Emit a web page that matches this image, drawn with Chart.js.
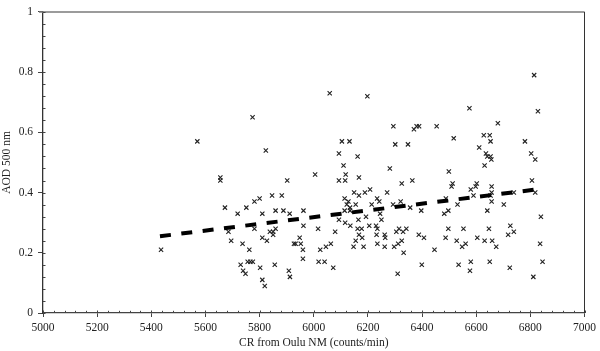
<!DOCTYPE html>
<html>
<head>
<meta charset="utf-8">
<script src="https://cdn.jsdelivr.net/npm/chart.js@4/dist/chart.umd.min.js"></script>
<style>
html,body{margin:0;padding:0;background:#fff;}
#wrap{width:600px;height:351px;position:relative;}
</style>
</head>
<body>
<div id="wrap"><canvas id="c" width="600" height="351"></canvas></div>
<script>
// CR from Oulu NM (counts/min)
const crValues = [
5774,5570,5823,5655,5655,5902,
5436,5672,5719,5751,5781,5800,5846,5882,5810,5859,5888,5911,5685,5695,5781,5737,5762,5810,5827,5838,5850,5850,5859,5927,5933,5730,5756,5766,5775,5802,5856,5739,5748,5810,5819,5908,5912,
6059,6198,6294,6370,6380,6389,6454,6104,6132,6301,6348,6093,6162,6110,6281,6118,6005,6093,6116,6167,6325,6364,
5962,6149,6167,6189,6208,6271,6114,6128,6122,6134,6155,6214,6234,6242,6293,6321,6356,6397,5948,5952,5960,5960,5962,6016,6079,6093,6116,6135,6114,6134,6165,6193,6245,6250,6205,6230,6235,6162,6177,6167,6179,6155,6147,6184,6232,6235,6262,6264,6262,6305,6315,6330,6342,6325,6312,6297,6332,6388,6407,6446,6024,6045,6063,6072,6018,6040,6399,6310,
6814,6575,6828,6680,6517,6628,6650,6653,6780,6611,6803,6818,6636,6641,6653,6656,6631,6499,6806,6513,6509,6602,6598,6580,6657,6657,
6590,6653,6657,6488,6739,6818,6531,6702,6641,6482,6497,6839,6497,6553,6647,6726,6718,6739,6487,6528,6548,6561,6604,6631,6659,6674,6836,6535,6580,6577,6650,6724,6845,6811
];
// AOD 500 nm
const aodValues = [
0.65,0.57,0.54,0.45,0.44,0.44,
0.21,0.35,0.33,0.35,0.37,0.38,0.39,0.39,0.33,0.34,0.34,0.33,0.27,0.24,0.28,0.23,0.21,0.25,0.24,0.27,0.27,0.26,0.28,0.23,0.23,0.16,0.17,0.17,0.17,0.15,0.16,0.14,0.13,0.11,0.09,0.14,0.12,
0.73,0.72,0.62,0.61,0.62,0.62,0.62,0.57,0.57,0.56,0.56,0.53,0.52,0.49,0.48,0.46,0.46,0.44,0.44,0.45,0.43,0.44,
0.34,0.40,0.39,0.40,0.41,0.40,0.38,0.37,0.36,0.35,0.36,0.36,0.38,0.37,0.36,0.37,0.35,0.34,0.25,0.23,0.21,0.18,0.29,0.28,0.27,0.31,0.30,0.29,0.34,0.34,0.31,0.32,0.33,0.31,0.29,0.29,0.28,0.28,0.28,0.26,0.25,0.24,0.22,0.22,0.26,0.23,0.26,0.25,0.22,0.27,0.28,0.27,0.28,0.24,0.23,0.22,0.20,0.26,0.25,0.21,0.21,0.22,0.23,0.15,0.17,0.17,0.16,0.13,
0.79,0.68,0.67,0.63,0.58,0.59,0.59,0.57,0.57,0.55,0.53,0.51,0.53,0.52,0.52,0.51,0.49,0.47,0.44,0.43,0.42,0.43,0.42,0.41,0.42,0.40,
0.39,0.39,0.37,0.38,0.40,0.40,0.36,0.36,0.34,0.33,0.34,0.32,0.28,0.28,0.28,0.29,0.26,0.27,0.25,0.24,0.22,0.23,0.25,0.24,0.24,0.22,0.23,0.16,0.17,0.14,0.17,0.15,0.17,0.12
];
// Linear trend line end points
const trendX = [5432, 6820];
const trendY = [0.255, 0.410];
// Axis tick settings
const xTicks = [5000,5200,5400,5600,5800,6000,6200,6400,6600,6800,7000];
const yTicks = [0,0.2,0.4,0.6,0.8,1];

const FONT = "'Liberation Serif', 'DejaVu Serif', serif";
const points = crValues.map((x,i)=>({x:x, y:aodValues[i]}));
const trend = trendX.map((x,i)=>({x:x, y:trendY[i]}));

const framePlugin = {
  id:'frame',
  afterDraw(chart){
    const {ctx, chartArea:a, scales} = chart;
    const xs = scales.x, ys = scales.y;
    ctx.save();
    ctx.strokeStyle = '#7a7a7a';
    ctx.lineWidth = 1.5;
    ctx.beginPath(); ctx.moveTo(a.left-4, a.top); ctx.lineTo(a.right, a.top); ctx.stroke();
    ctx.strokeStyle = '#333';
    ctx.lineWidth = 1;
    ctx.beginPath(); ctx.moveTo(a.right, a.top); ctx.lineTo(a.right, a.bottom); ctx.stroke();
    ctx.strokeStyle = '#444';
    ctx.lineWidth = 1;
    for (let v = 5000; v <= 7000; v += 40) {
      const p = Math.round(xs.getPixelForValue(v)) + 0.5;
      const major = (v % 200) === 0;
      ctx.beginPath(); ctx.moveTo(p, a.bottom); ctx.lineTo(p, a.bottom - (major ? 2.5 : 2.2)); ctx.stroke();
    }
    for (let k = 0; k <= 25; k++) {
      const v = k * 0.04;
      const p = Math.round(ys.getPixelForValue(v)) + 0.5;
      ctx.beginPath(); ctx.moveTo(a.left, p); ctx.lineTo(a.left + 2.5, p); ctx.stroke();
    }
    ctx.restore();
  }
};

new Chart(document.getElementById('c'), {
  type:'scatter',
  data:{
    datasets:[
      {
        label:'data',
        data:points,
        showLine:false,
        pointStyle:'crossRot',
        pointRadius:3,
        pointBorderWidth:1.1,
        borderColor:'#222',
        backgroundColor:'#222',
        order:2
      },
      {
        label:'trend',
        type:'line',
        data:trend,
        showLine:true,
        pointRadius:0,
        borderColor:'#000',
        borderWidth:4,
        borderDash:[11,10.5],
        borderCapStyle:'butt',
        fill:false,
        order:1
      }
    ]
  },
  options:{
    responsive:false,
    animation:false,
    devicePixelRatio:1,
    layout:{padding:{top:5,right:12,left:0,bottom:0}},
    plugins:{legend:{display:false},tooltip:{enabled:false}},
    scales:{
      x:{
        type:'linear', min:5000, max:7000,
        afterBuildTicks(s){ s.ticks = xTicks.map(v=>({value:v})); },
        afterFit(s){ s.height = 38; },
        ticks:{ callback:v=>String(v), font:{family:FONT,size:11.5}, color:'#222', padding:4, maxRotation:0, autoSkip:false },
        grid:{ drawOnChartArea:false, drawTicks:true, tickLength:4, tickColor:'#444', tickWidth:1 },
        border:{ display:true, color:'#444', width:1.3 },
        title:{ display:true, text:'CR from Oulu NM (counts/min)', font:{family:FONT,size:11.5}, color:'#222', padding:{top:0,bottom:1} }
      },
      y:{
        type:'linear', min:0, max:1,
        afterBuildTicks(s){ s.ticks = yTicks.map(v=>({value:v})); },
        afterFit(s){ s.width = 43; },
        ticks:{ callback:v=>String(v), font:{family:FONT,size:11.5}, color:'#222', padding:5 },
        grid:{ drawOnChartArea:false, drawTicks:true, tickLength:5, tickColor:'#444', tickWidth:1 },
        border:{ display:true, color:'#333', width:1.3 },
        title:{ display:true, text:'AOD 500 nm', font:{family:FONT,size:11.5}, color:'#222', padding:{top:0,bottom:0} }
      }
    }
  },
  plugins:[framePlugin]
});
</script>
</body>
</html>
